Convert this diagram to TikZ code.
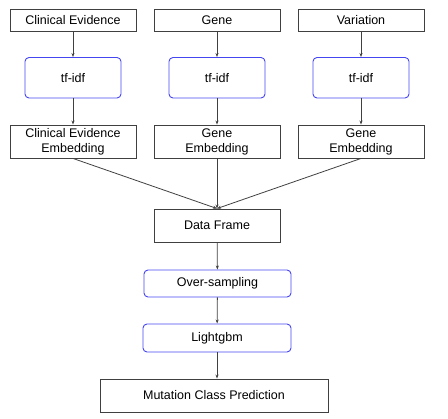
\documentclass[tikz,border=0pt]{standalone}
\usepackage{fontspec}
\setmainfont{Liberation Sans}
\usetikzlibrary{arrows.meta}
\definecolor{boxline}{RGB}{64,64,64}
\definecolor{stepblue}{RGB}{70,70,240}
\tikzset{
    databox/.style={draw=boxline,line width=0.9pt,align=center,inner sep=0pt,font=\fontsize{12.5}{15}\selectfont},
    stepbox/.style={databox,draw=stepblue,rounded corners=4pt},
    flow/.style={-{Stealth[length=4pt,width=3pt]},draw=boxline,line width=0.8pt}
}
\begin{document}
\begin{tikzpicture}[x=1pt,y=-1pt]
        \useasboundingbox(0,0)rectangle(448,419);
        \node[databox,minimum width=126pt,minimum height=22pt](clin)at(73,20.5){Clinical Evidence};
        \node[databox,minimum width=126pt,minimum height=22pt](gene)at(217,20.5){Gene};
        \node[databox,minimum width=126pt,minimum height=22pt](vari)at(361,20.5){Variation};
        \node[stepbox,minimum width=96pt,minimum height=40.5pt](tfclin)at(73,77.75){tf-idf};
        \node[stepbox,minimum width=96pt,minimum height=40.5pt](tfgene)at(217,77.75){tf-idf};
        \node[stepbox,minimum width=96pt,minimum height=40.5pt](tfvari)at(361,77.75){tf-idf};
        \node[databox,minimum width=126pt,minimum height=33pt](embclin)at(73,141.5){Clinical Evidence\\Embedding};
        \node[databox,minimum width=126pt,minimum height=33pt](embgene)at(217,141.5){Gene\\Embedding};
        \node[databox,minimum width=126pt,minimum height=33pt](embvari)at(361,141.5){Gene\\Embedding};
        \node[databox,minimum width=126pt,minimum height=33pt](frame)at(217,225.5){Data Frame};
        \node[stepbox,minimum width=147pt,minimum height=27pt](over)at(217.5,283.5){Over-sampling};
        \node[stepbox,minimum width=148pt,minimum height=28pt](lgbm)at(217,338){Lightgbm};
        \node[databox,minimum width=228pt,minimum height=33pt](pred)at(214,395.5){Mutation Class Prediction};
        \draw[flow](clin)--(tfclin);
        \draw[flow](gene)--(tfgene);
        \draw[flow](vari)--(tfvari);
        \draw[flow](tfclin)--(embclin);
        \draw[flow](tfgene)--(embgene);
        \draw[flow](tfvari)--(embvari);
        \draw[flow](embclin.south)--(frame.north);
        \draw[flow](embgene.south)--(frame.north);
        \draw[flow](embvari.south)--(frame.north);
        \draw[flow](frame)--(over);
        \draw[flow](over)--(lgbm);
        \draw[flow](lgbm.south)--(lgbm.south|-pred.north);
    \end{tikzpicture}
\end{document}
